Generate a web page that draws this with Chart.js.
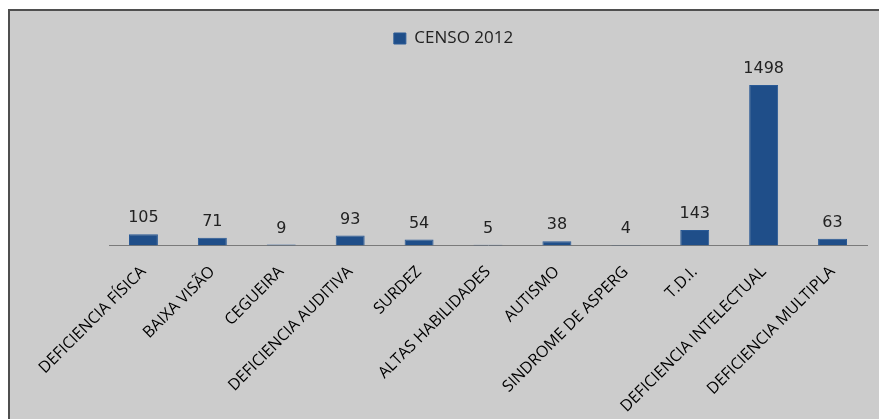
<!DOCTYPE html>
<html lang="pt">
  <head>
    <meta charset="UTF-8" />
    <title>Censo 2012</title>
    <script src="https://cdn.jsdelivr.net/npm/chart.js"></script>
    <style>
      body {
        margin: 0;
        background: #fff;
        overflow: hidden;
      }
      .quadro {
        position: absolute;
        left: 8px;
        top: 9px;
        width: 871px;
        height: 410px;
        overflow: hidden;
        background: #cccccc;
        border-left: 2px solid #4f4f4f;
        border-top: 2px solid #4f4f4f;
      }
    </style>
  </head>
  <body>
    <div class="quadro">
      <canvas id="grafico" width="869" height="414"></canvas>
    </div>

    <script>
      // categorias e valores do censo
      const categorias = [
        'DEFICIENCIA FÍSICA',
        'BAIXA VISÃO',
        'CEGUEIRA',
        'DEFICIENCIA AUDITIVA',
        'SURDEZ',
        'ALTAS HABILIDADES',
        'AUTISMO',
        'SINDROME DE ASPERG',
        'T.D.I.',
        'DEFICIENCIA INTELECTUAL',
        'DEFICIENCIA MULTIPLA'
      ]
      const censo2012 = [105, 71, 9, 93, 54, 5, 38, 4, 143, 1498, 63]

      // escreve o valor em cima de cada barra
      const rotulosValores = {
        id: 'rotulosValores',
        afterDatasetsDraw(chart) {
          const ctx = chart.ctx
          ctx.save()
          ctx.font = '16px "DejaVu Sans"'
          ctx.fillStyle = '#222'
          ctx.textAlign = 'center'
          ctx.textBaseline = 'bottom'
          chart.getDatasetMeta(0).data.forEach(function (barra, i) {
            ctx.fillText(chart.data.datasets[0].data[i], barra.x, barra.y - 8)
          })
          ctx.restore()
        }
      }

      new Chart(document.getElementById('grafico'), {
        type: 'bar',
        data: {
          labels: categorias,
          datasets: [
            {
              label: 'CENSO 2012',
              data: censo2012,
              backgroundColor: '#1f4e89',
              borderColor: '#2a5a96',
              borderWidth: 1,
              barPercentage: 0.42,
              categoryPercentage: 1
            }
          ]
        },
        options: {
          responsive: false,
          animation: false,
          layout: {
            padding: { left: 30, right: 12, top: 3, bottom: 0 }
          },
          plugins: {
            legend: {
              position: 'top',
              labels: {
                boxWidth: 12,
                boxHeight: 11,
                color: '#222',
                font: { family: 'Open Sans', size: 17 },
                padding: 16
              }
            },
            tooltip: { enabled: false }
          },
          scales: {
            x: {
              grid: { display: false },
              border: { color: '#7a7a7a', width: 1 },
              ticks: {
                color: '#000',
                font: { family: 'Open Sans', size: 16 },
                padding: 9,
                minRotation: 45,
                maxRotation: 45,
                autoSkip: false
              }
            },
            y: {
              // eixo invisível, só reserva espaço à esquerda
              min: 0,
              max: 1760,
              grid: { display: false },
              border: { display: false },
              ticks: { display: false },
              afterFit(scale) {
                scale.width = 69
              }
            }
          }
        },
        plugins: [rotulosValores]
      })
    </script>
  </body>
</html>
